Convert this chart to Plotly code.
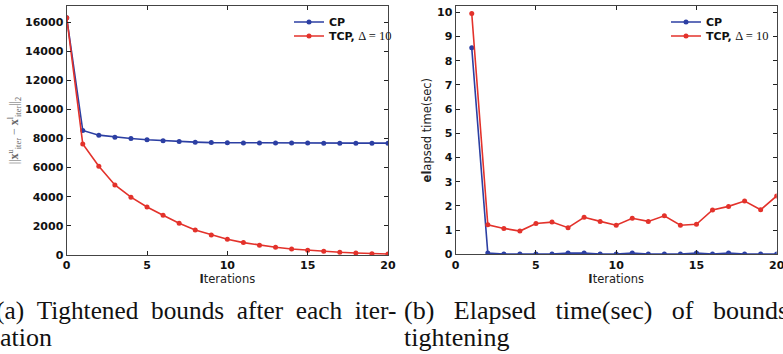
import plotly.graph_objects as go

# ---- data ----
iters_a = list(range(0, 21))
cp_bounds = [16300, 8550, 8230, 8090, 8000, 7910, 7840, 7800, 7750, 7720, 7710,
             7700, 7700, 7690, 7690, 7690, 7680, 7680, 7680, 7680, 7680]
tcp_bounds = [16300, 7630, 6100, 4810, 3970, 3300, 2730, 2180, 1720, 1375, 1080,
              850, 665, 530, 410, 320, 250, 185, 140, 90, 70]

iters_b = list(range(1, 21))
cp_time = [8.53, 0.05, 0.01, 0.01, 0.01, 0.01, 0.05, 0.05, 0.01, 0.01,
           0.05, 0.01, 0.01, 0.01, 0.05, 0.01, 0.05, 0.01, 0.01, 0.01]
tcp_time = [9.95, 1.22, 1.07, 0.96, 1.27, 1.33, 1.10, 1.53, 1.36, 1.20,
            1.49, 1.36, 1.59, 1.20, 1.24, 1.83, 1.98, 2.20, 1.84, 2.41]

y_ticks_a = [0, 2000, 4000, 6000, 8000, 10000, 12000, 14000, 16000]
y_ticks_b = [0, 1, 2, 3, 4, 5, 6, 7, 8, 9, 10]
x_ticks = [0, 5, 10, 15, 20]

name_cp = "<b>CP</b>"
name_tcp = "<b>TCP,</b> <span style='font-family:Liberation Serif;font-size:12.5px'>Δ = 10</span>"

BLUE = "#2c3fa3"
RED = "#e3322b"
W, H = 783, 354

def px(x):
    return x / W

def py(y):
    return 1 - y / H

def bold(vals):
    return ["<b>%d</b>" % v for v in vals]

fig = go.Figure()

def add(x, y, name, color, xa, ya, legend):
    fig.add_trace(go.Scatter(
        x=x, y=y, name=name, mode="lines+markers",
        line=dict(color=color, width=1.6),
        marker=dict(color=color, size=5),
        xaxis=xa, yaxis=ya, legend=legend, showlegend=True))

add(iters_a, cp_bounds, name_cp, BLUE, "x", "y", "legend")
add(iters_a, tcp_bounds, name_tcp, RED, "x", "y", "legend2")
add(iters_b, cp_time, name_cp, BLUE, "x2", "y2", "legend3")
add(iters_b, tcp_time, name_tcp, RED, "x2", "y2", "legend4")

tickfont = dict(family="DejaVu Sans", size=11, color="#111")

axis_common = dict(
    showline=True, linecolor="#444", linewidth=1.4, mirror="ticks",
    ticks="inside", ticklen=4, tickwidth=1, tickcolor="#222",
    showgrid=False, zeroline=False, tickfont=tickfont, automargin=False,
    ticklabeloverflow="allow",
)

title_font = dict(family="DejaVu Sans", size=11.5, color="#222")

fig.update_layout(
    width=W, height=H,
    margin=dict(l=0, r=0, t=0, b=0),
    paper_bgcolor="white", plot_bgcolor="white",
    xaxis=dict(domain=[px(66.7), px(388)], range=[0, 20],
               tickvals=x_ticks, ticktext=bold(x_ticks),
               title=dict(text="<b>I</b>terations", standoff=3, font=title_font),
               **axis_common),
    yaxis=dict(domain=[py(255), py(6)], range=[0, 17100],
               tickvals=y_ticks_a, ticktext=bold(y_ticks_a),
               title=dict(text="||<b>x</b><sup>u</sup><sub>iter</sub> − <b>x</b><sup>l</sup><sub>iter</sub>||<sub>2</sub>",
                          standoff=3,
                          font=dict(family="Liberation Serif", size=12, color="#666")),
               **axis_common),
    xaxis2=dict(domain=[px(455.7), px(776.7)], range=[0, 20],
                tickvals=x_ticks, ticktext=bold(x_ticks), anchor="y2",
                title=dict(text="<b>I</b>terations", standoff=3, font=title_font),
                **axis_common),
    yaxis2=dict(domain=[py(254.3), py(6)], range=[0, 10.26],
                tickvals=y_ticks_b, ticktext=bold(y_ticks_b), anchor="x2",
                title=dict(text="<b>el</b>apsed time(sec)", standoff=2, font=title_font),
                **axis_common),
)

leg_common = dict(xanchor="left", yanchor="middle", bgcolor="rgba(0,0,0,0)",
                  borderwidth=0, font=dict(family="DejaVu Sans", size=11, color="#111"),
                  itemwidth=30)
fig.update_layout(
    legend=dict(x=px(289), y=py(22), **leg_common),
    legend2=dict(x=px(289), y=py(36), **leg_common),
    legend3=dict(x=px(666), y=py(22), **leg_common),
    legend4=dict(x=px(666), y=py(36), **leg_common),
)

sp = "\u00a0\u00a0"
sp3 = "\u00a0\u00a0\u00a0"
captions = [
    ("(a)" + sp + "Tightened" + sp + "bounds" + sp + "after" + sp + "each" + sp + "iter-", -6, 310, 25.3),
    ("ation", -2, 337, 26),
    ("(b)" + sp3 + "Elapsed" + sp3 + "time(sec)" + sp3 + "of" + sp3 + "bounds", 402, 310, 26),
    ("tightening", 402, 337, 26),
]
for text, x, y, size in captions:
    fig.add_annotation(text=text, xref="paper", yref="paper", x=px(x), y=py(y),
                       xanchor="left", yanchor="middle", showarrow=False,
                       font=dict(family="Liberation Serif", size=size, color="#111"))

fig.write_html("out.html", config={"displayModeBar": False},
               post_script="document.body.style.margin='0px';document.body.style.overflow='hidden';")
